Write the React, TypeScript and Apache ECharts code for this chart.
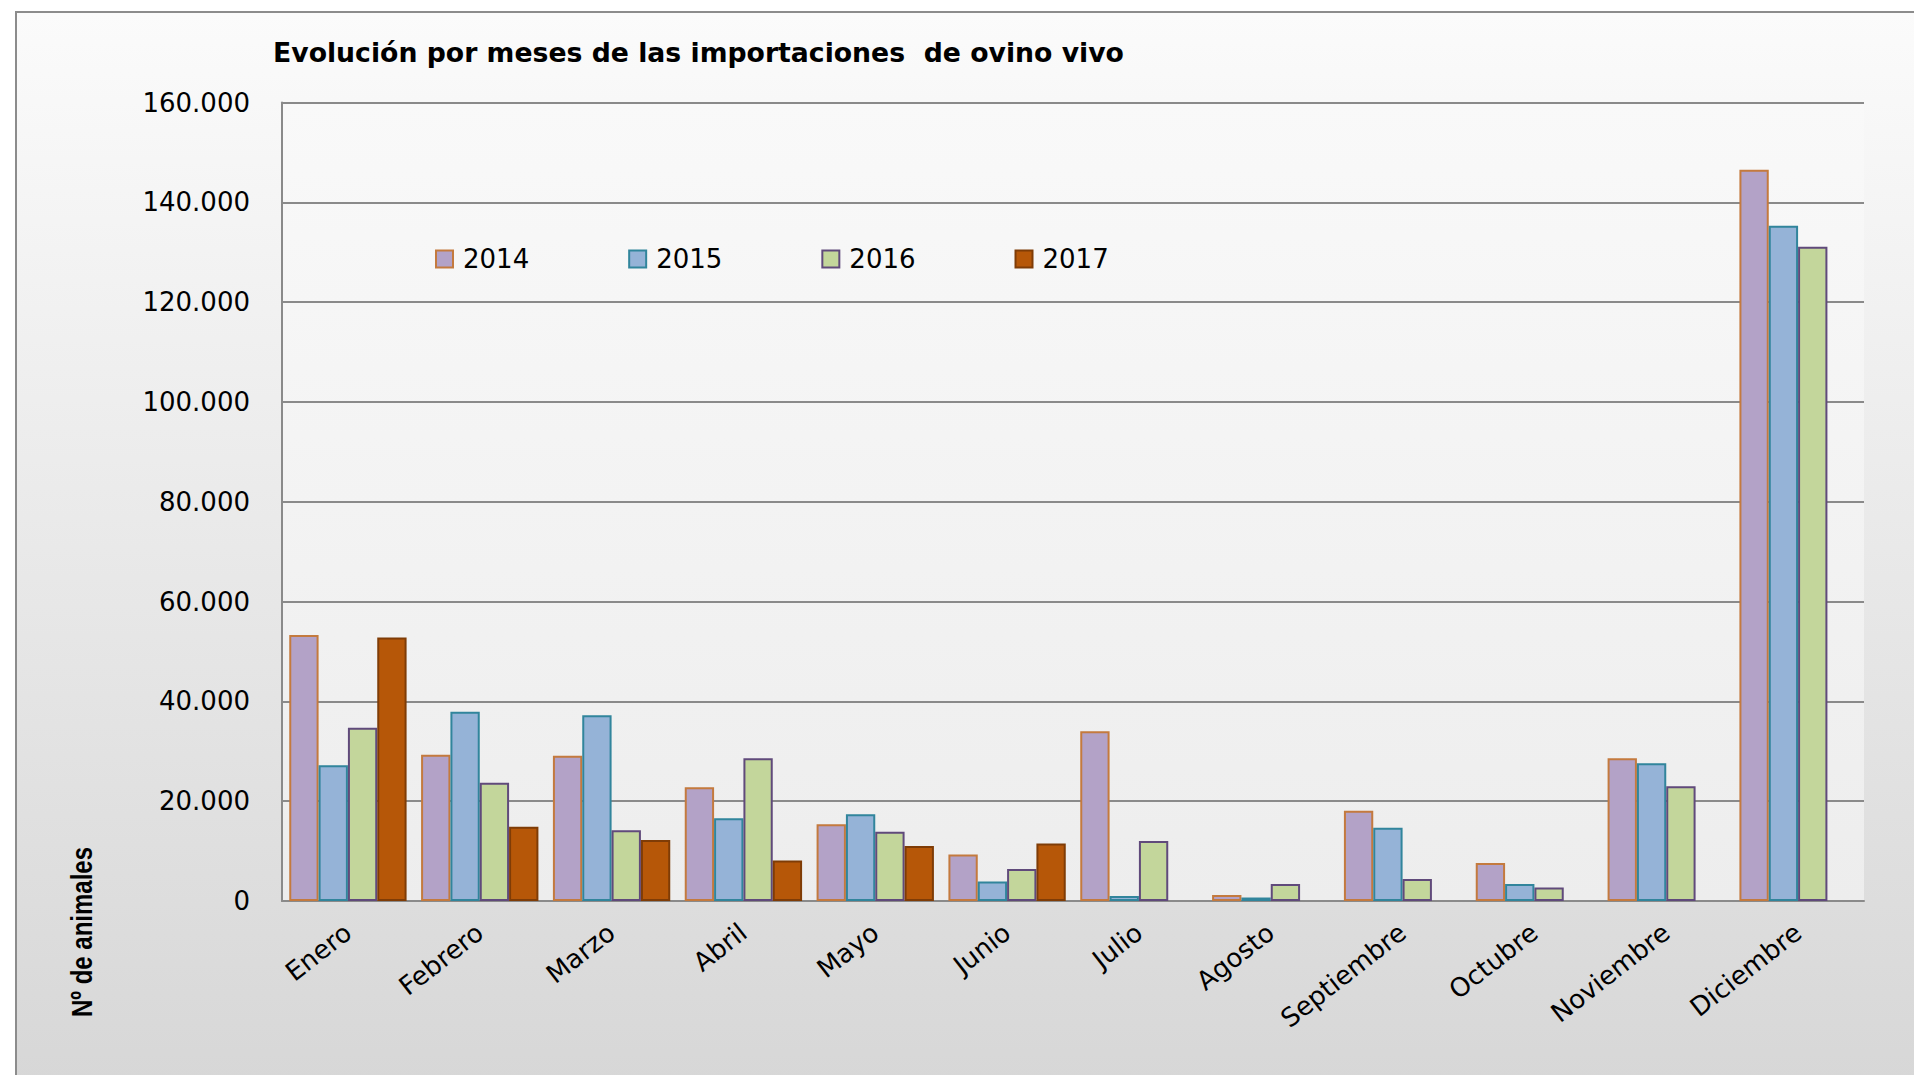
import React, { useEffect, useRef } from "react";
import * as echarts from "echarts";

const months = ["Enero", "Febrero", "Marzo", "Abril", "Mayo", "Junio", "Julio", "Agosto", "Septiembre", "Octubre", "Noviembre", "Diciembre"];
const years = ["2014", "2015", "2016", "2017"];
const v2014 = [53300, 29300, 29100, 22800, 15400, 9300, 34000, 1200, 18100, 7600, 28600, 146500];
const v2015 = [27200, 37900, 37200, 16600, 17400, 3900, 1000, 700, 14700, 3400, 27600, 135300];
const v2016 = [34700, 23700, 14200, 28600, 13900, 6400, 12000, 3400, 4400, 2700, 23000, 131100];
const v2017 = [52800, 14900, 12200, 8100, 11000, 11500, null, null, null, null, null, null];
const seriesValues = [v2014, v2015, v2016, v2017];
const fills = ["#b3a2c7", "#95b3d7", "#c3d69b", "#b65708"];
const borders = ["#c47a3e", "#31859c", "#604a7b", "#7f3c06"];

const FONT = "DejaVu Sans";

export default function App() {
  const ref = useRef<HTMLDivElement>(null);
  useEffect(() => {
    if (!ref.current) return;
    const chart = echarts.init(ref.current, null, { renderer: "svg" });
    chart.setOption({
      animation: false,
      backgroundColor: "#ffffff",
      title: {
        text: "Evolución por meses de las importaciones  de ovino vivo",
        left: 273,
        top: 38.5,
        padding: 0,
        textStyle: { fontFamily: FONT, fontSize: 26.7, fontWeight: "bold", color: "#000" },
      },
      graphic: [
        {
          type: "rect",
          z: -10,
          silent: true,
          shape: { x: 16, y: 12, width: 1940, height: 1100 },
          style: {
            fill: new echarts.graphic.LinearGradient(0, 0, 0, 1, [
              { offset: 0, color: "#fbfbfb" },
              { offset: 1, color: "#d6d6d6" },
            ]),
            stroke: "#8c8c8c",
            lineWidth: 2,
          },
        },
        {
          type: "text",
          x: 82,
          y: 932,
          rotation: Math.PI / 2,
          scaleY: 1.25,
          style: {
            text: "Nº de animales",
            font: "bold 24px 'Liberation Sans Narrow', 'Liberation Sans', sans-serif",
            fill: "#000",
            align: "center",
            verticalAlign: "middle",
          },
        },
      ],
      legend: {
        left: 430,
        top: 241,
        itemWidth: 17,
        itemHeight: 17,
        itemGap: 99,
        icon: "rect",
        data: years,
        textStyle: { fontFamily: FONT, fontSize: 26, color: "#000", padding: [0, 0, 0, 5] },
      },
      grid: {
        left: 282,
        top: 102.5,
        width: 1582,
        height: 798.5,
        show: true,
        borderWidth: 0,
        backgroundColor: new echarts.graphic.LinearGradient(0, 0, 0, 1, [
          { offset: 0, color: "#f9f9f9" },
          { offset: 1, color: "#ededed" },
        ]),
      },
      xAxis: {
        type: "category",
        data: months,
        axisTick: { show: false },
        axisLine: { lineStyle: { color: "#8a8a8a", width: 2 } },
        axisLabel: { rotate: 38, fontFamily: FONT, fontSize: 26, color: "#000", margin: 28, interval: 0 },
      },
      yAxis: {
        type: "value",
        min: 0,
        max: 160000,
        interval: 20000,
        axisLine: { show: true, lineStyle: { color: "#8a8a8a", width: 2 } },
        axisTick: { show: false },
        splitLine: { lineStyle: { color: "#8a8a8a", width: 2 } },
        axisLabel: {
          fontFamily: FONT,
          fontSize: 26,
          color: "#000",
          margin: 32,
          formatter: (v: number) => (v === 0 ? "0" : v.toLocaleString("de-DE")),
        },
      },
      series: years.map((y, i) => ({
        name: y,
        type: "bar",
        data: seriesValues[i],
        barGap: "0%",
        barCategoryGap: "11%",
        itemStyle: { color: fills[i], borderColor: borders[i], borderWidth: 2 },
      })),
    });
    return () => chart.dispose();
  }, []);
  return <div ref={ref} style={{ position: "fixed", left: 0, top: 0, width: 1914, height: 1075 }} />;
}
